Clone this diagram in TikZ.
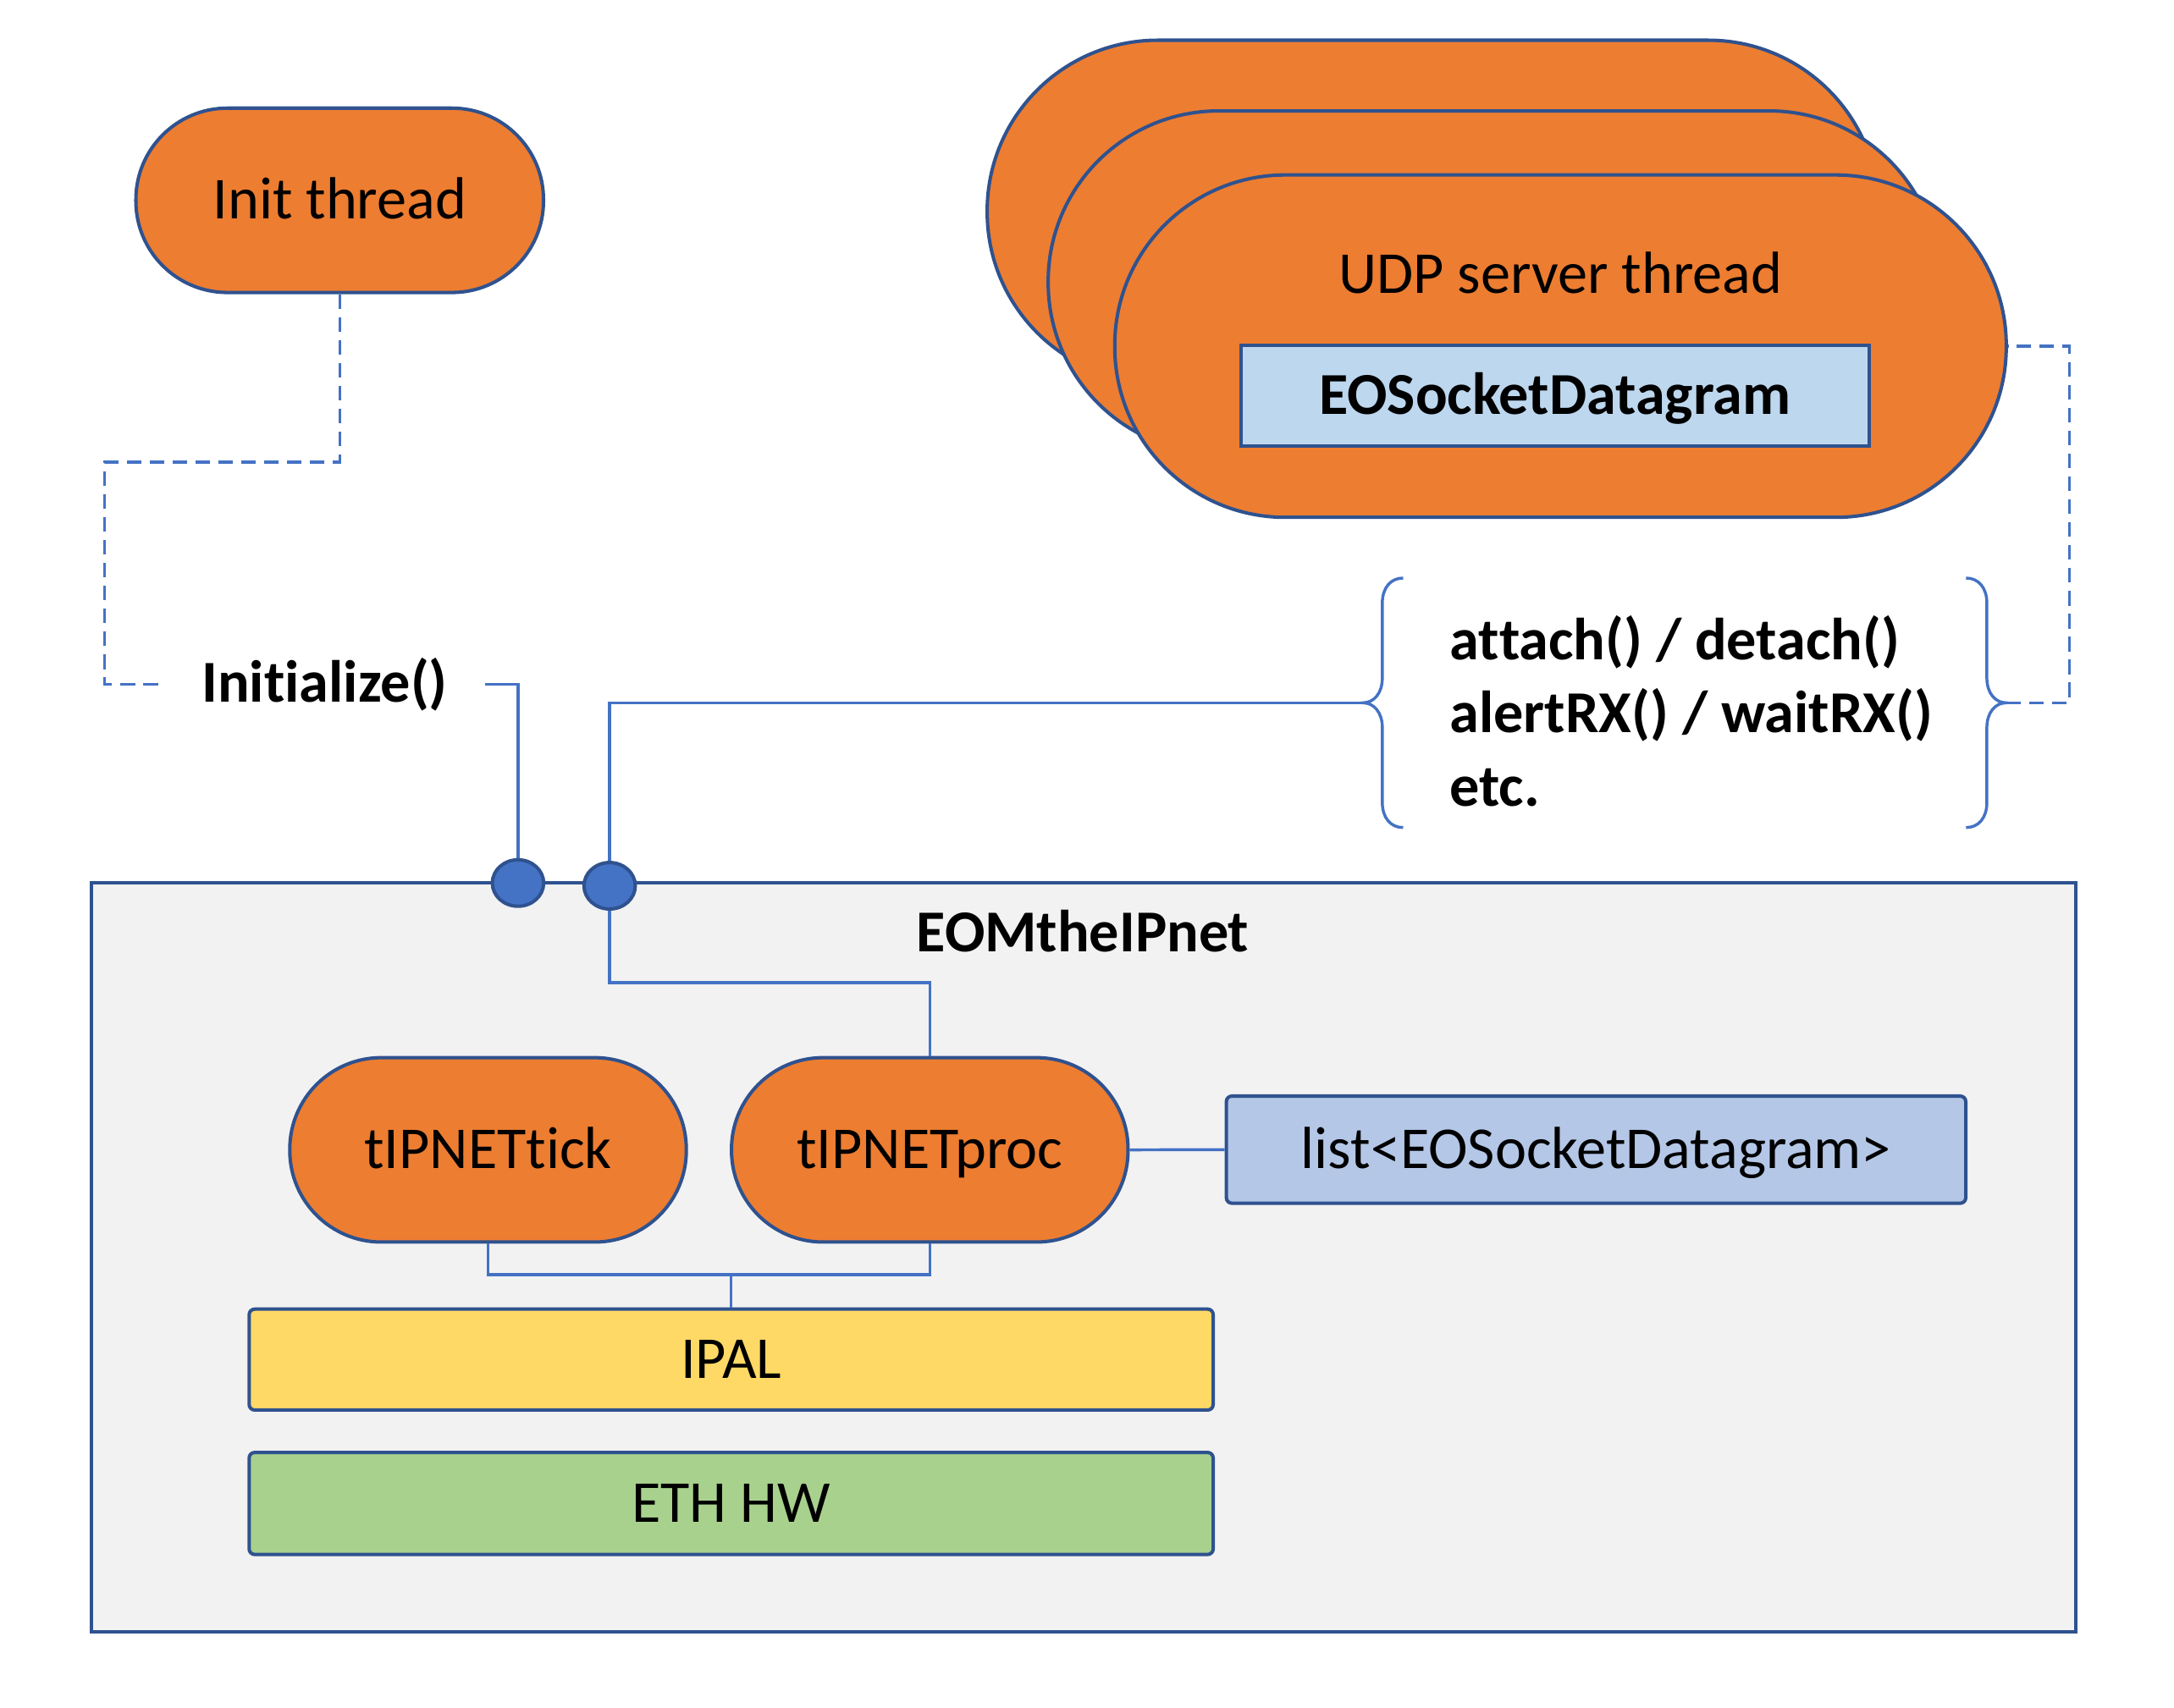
\documentclass[tikz,border=0pt]{standalone}
\usepackage{fontspec}
\setmainfont[Ligatures={NoCommon,NoContextual},Contextuals=NoAlternate]{Carlito}
\usetikzlibrary{calc,shapes.geometric}
\definecolor{orng}{HTML}{ED7D31}
\definecolor{outl}{HTML}{2F528F}
\definecolor{lblue}{HTML}{4472C4}
\definecolor{ylw}{HTML}{FFD966}
\definecolor{grn}{HTML}{A9D18E}
\definecolor{lstfill}{HTML}{B4C7E7}
\definecolor{sockfill}{HTML}{BDD7EE}
\definecolor{boxfill}{HTML}{F2F2F2}
\newcommand\dfont{\fontsize{12.2}{14.6}\selectfont}
\newcommand\nolig{\kern0pt }
\tikzset{
  fixtext/.style={text height=0.77em, text depth=0pt},
  thread/.style={draw=outl, fill=orng, line width=0.7pt, inner sep=0pt, font=\dfont, fixtext},
  layerbox/.style={draw=outl, line width=0.7pt, rounded corners=0.04cm, inner sep=0pt, font=\dfont, fixtext},
  con/.style={draw=lblue, line width=0.6pt},
  dashedcon/.style={draw=lblue, line width=0.6pt, dash pattern=on 3pt off 1.7pt},
  port/.style={ellipse, draw=outl, fill=lblue, line width=0.7pt, minimum width=0.37cm, minimum height=0.335cm, inner sep=0pt},
  label/.style={inner sep=0pt, font=\dfont\bfseries}
}
\begin{document}
\begin{tikzpicture}[y=-1cm]
\useasboundingbox (0,0) rectangle (15.68,12.32);
% outer module box
\node[draw=outl, fill=boxfill, line width=0.7pt, minimum width=14.31cm, minimum height=5.40cm, inner sep=0pt] (ipnet) at (7.815,9.07) {};
\node[label, fixtext] (ipnettitle) at (7.81,6.73) {EOMtheIPnet};
% threads
\node[thread, rounded corners=0.66cm, minimum width=2.94cm, minimum height=1.33cm] (init) at (2.45,1.445) {Init thread};
\node[thread, rounded corners=1.23cm, minimum width=6.43cm, minimum height=2.47cm] (udp1) at (10.335,1.525) {};
\node[thread, rounded corners=1.23cm, minimum width=6.43cm, minimum height=2.47cm] (udp2) at (10.775,2.035) {};
\node[thread, rounded corners=1.23cm, minimum width=6.43cm, minimum height=2.47cm] (udp3) at (11.255,2.497) {};
\node[inner sep=0pt, font=\dfont, fixtext] (udptext) at (11.255,1.98) {UDP server thread};
\node[draw=outl, fill=sockfill, line width=0.7pt, minimum width=4.53cm, minimum height=0.73cm, inner sep=0pt, font=\dfont\bfseries, fixtext] (sock) at (11.215,2.855) {EOSocketDatagram};
\node[thread, rounded corners=0.66cm, minimum width=2.86cm, minimum height=1.33cm] (tick) at (3.52,8.295) {tIPNETt\nolig ick};
\node[thread, rounded corners=0.66cm, minimum width=2.86cm, minimum height=1.33cm] (proc) at (6.706,8.295) {tIPNETproc};
% layers
\node[layerbox, fill=ylw, minimum width=6.953cm, minimum height=0.728cm] (ipal) at (5.2735,9.808) {IPAL};
\node[layerbox, fill=grn, minimum width=6.953cm, minimum height=0.736cm] (eth) at (5.2735,10.846) {ETH HW};
\node[layerbox, fill=lstfill, minimum width=5.333cm, minimum height=0.773cm] (list) at (11.5115,8.2935) {list<EOSocketDatagram>};
% labels
\node[label, minimum width=2.30cm] (initf) at (2.342,4.937) {Init\nolig ialize()};
\node[inner sep=0pt, align=left, anchor=west, font=\fontsize{12.2}{15}\selectfont\bfseries] (ops) at (10.45,5.13) {at\nolig tach() / detach()\\alertRX() / waitRX()\\etc.};
% braces
\coordinate (ltip) at (9.83,5.07);
\coordinate (rtip) at (14.47,5.07);
\draw[con] (10.12,4.17) .. controls (10.03,4.17) and (9.97,4.24) .. (9.97,4.35) -- (9.97,4.89) .. controls (9.97,5.00) and (9.91,5.07) .. (ltip) .. controls (9.91,5.07) and (9.97,5.14) .. (9.97,5.25) -- (9.97,5.79) .. controls (9.97,5.90) and (10.03,5.97) .. (10.12,5.97);
\draw[con] (14.18,4.17) .. controls (14.27,4.17) and (14.33,4.24) .. (14.33,4.35) -- (14.33,4.89) .. controls (14.33,5.00) and (14.39,5.07) .. (rtip) .. controls (14.39,5.07) and (14.33,5.14) .. (14.33,5.25) -- (14.33,5.79) .. controls (14.33,5.90) and (14.27,5.97) .. (14.18,5.97);
% connectors
\coordinate (c1pos) at (3.736,6.37);
\coordinate (c2pos) at (4.397,6.39);
\draw[dashedcon] (init.south) |- (0.754,3.335) |- (initf.west);
\draw[con] (initf.east) -| (c1pos);
\draw[con] (c2pos) |- (ltip);
\draw[con] (c2pos) |- (6.706,7.09) -- (proc.north);
\coordinate (join) at (5.2735,9.194);
\draw[con] (tick.south) |- (join) -| (proc.south);
\draw[con] (join) -- (ipal.north);
\draw[con] (proc.east) -- (list.west);
\draw[dashedcon] (rtip) -- (14.925,5.07) |- (udp3.east);
% ports
\node[port] (c1) at (c1pos) {};
\node[port] (c2) at (c2pos) {};
\end{tikzpicture}
\end{document}
